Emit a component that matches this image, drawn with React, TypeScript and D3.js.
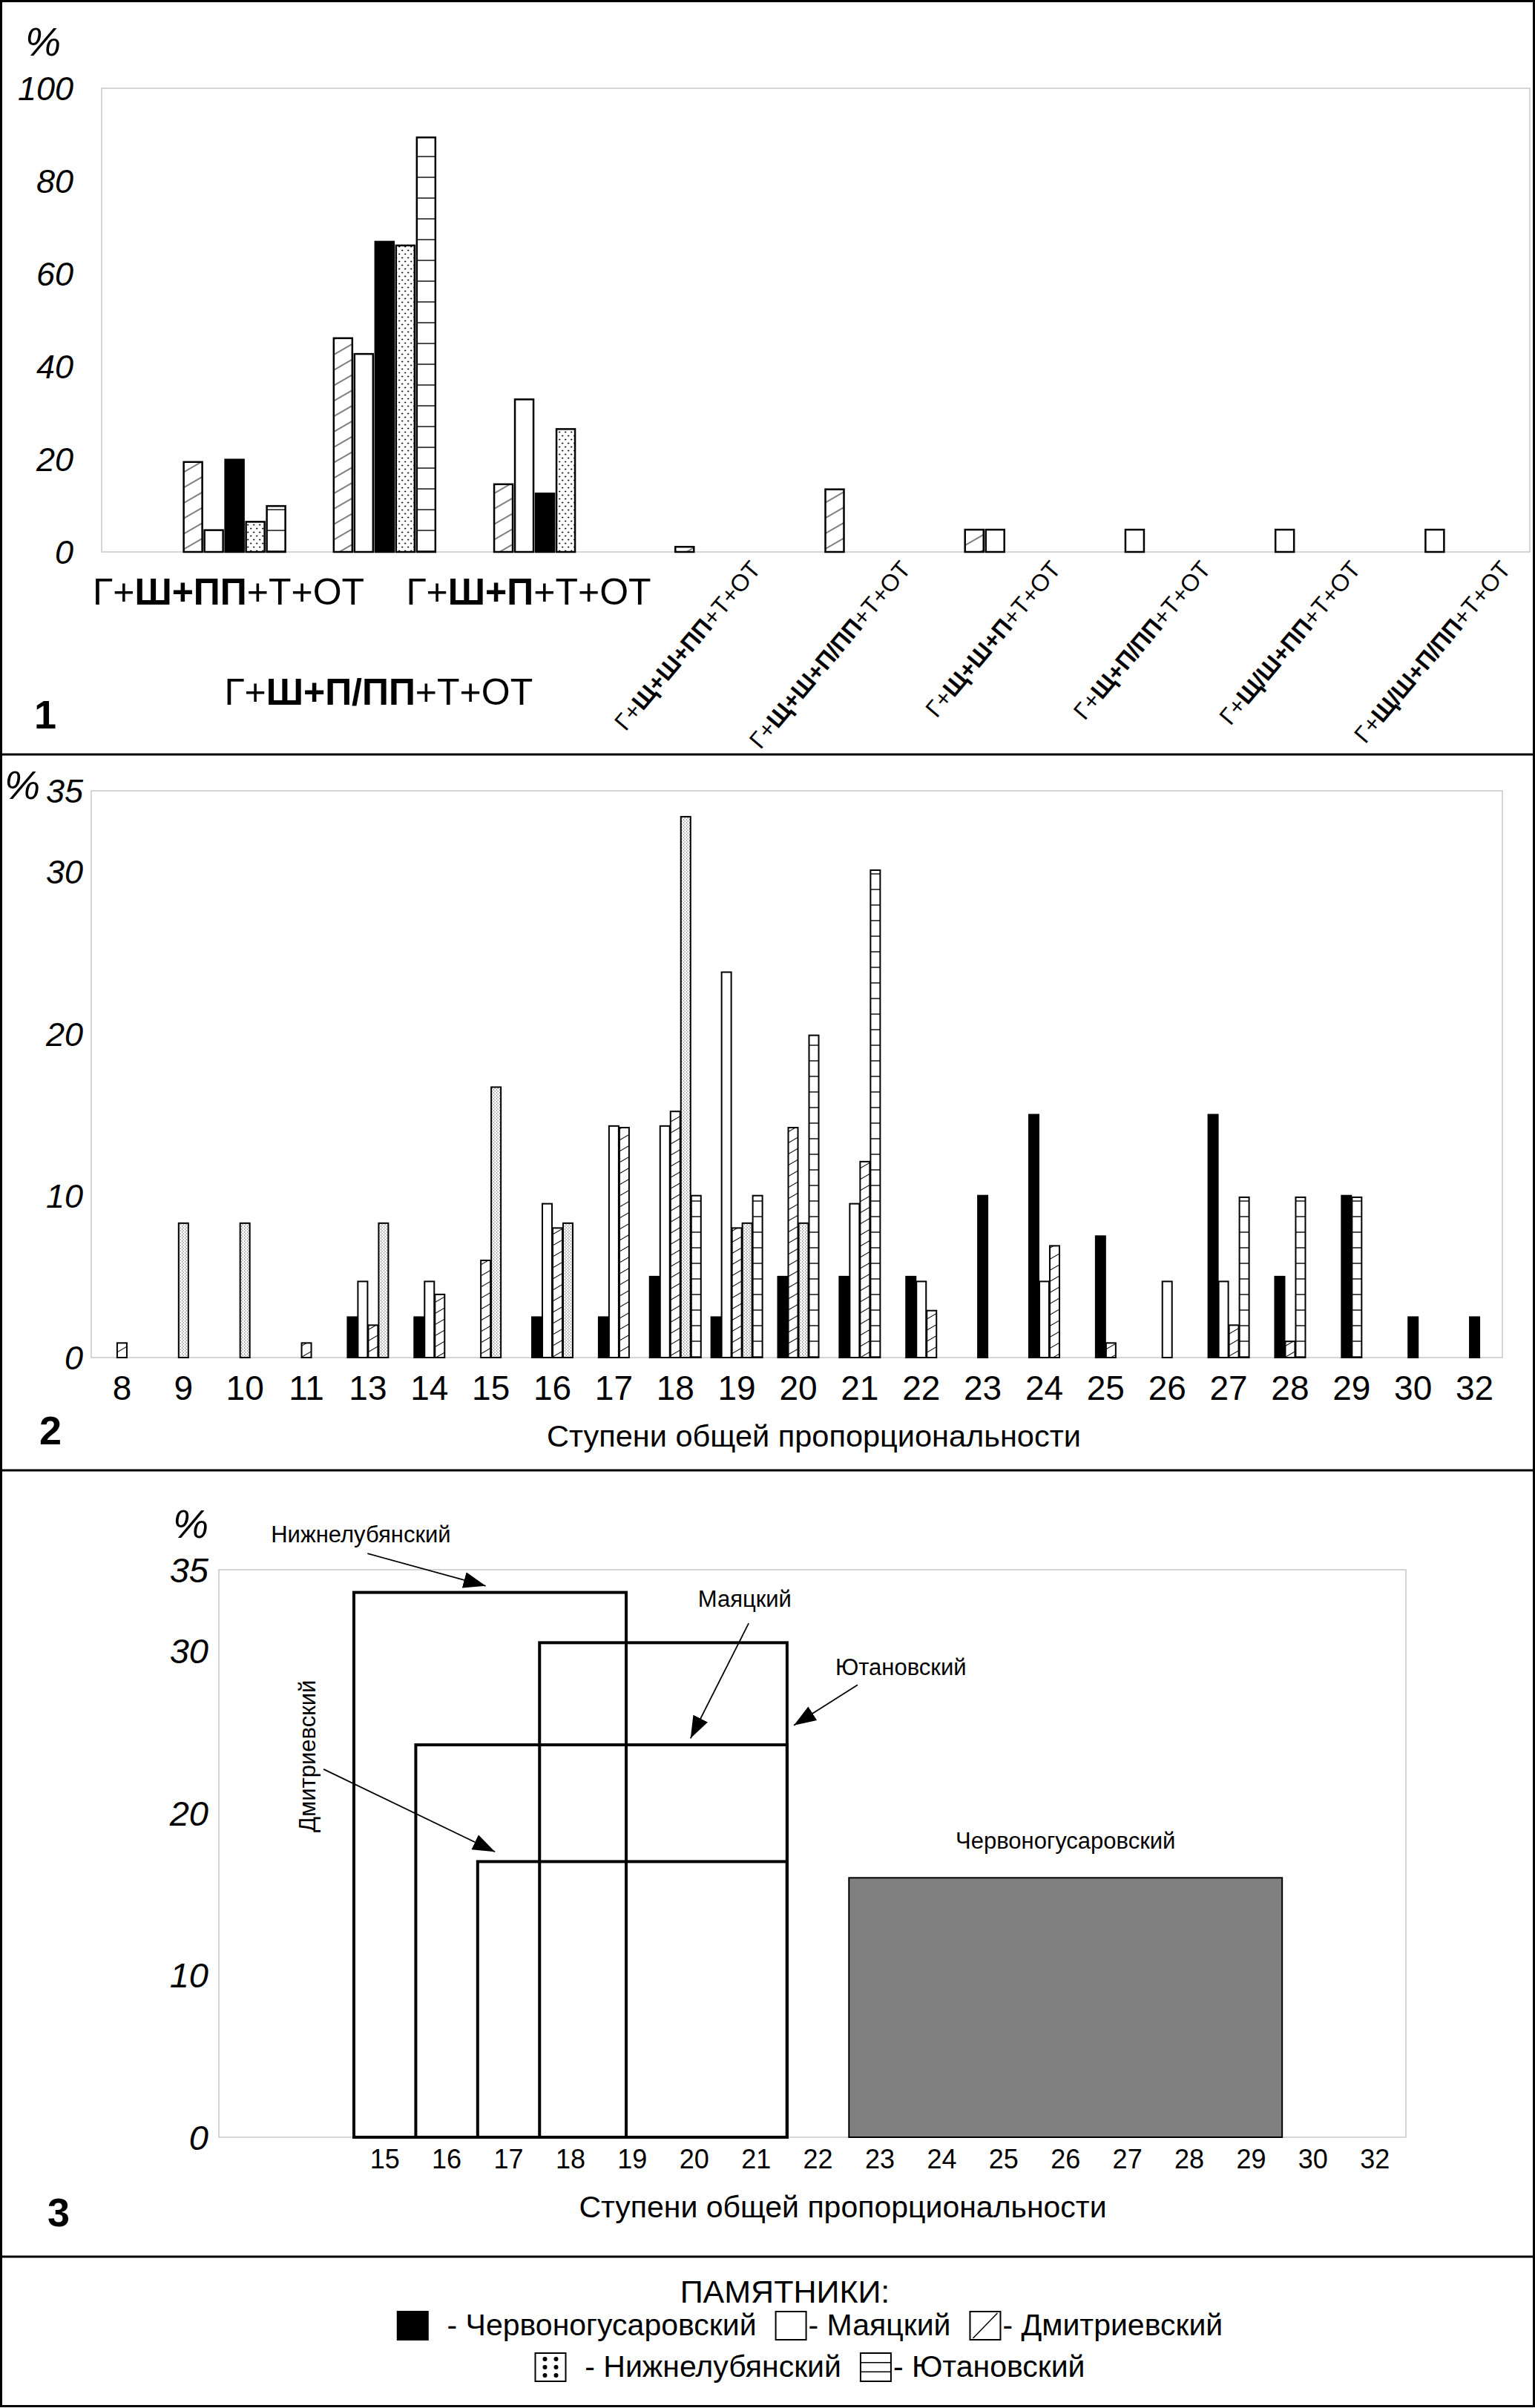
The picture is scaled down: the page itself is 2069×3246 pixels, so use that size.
import React, { useRef, useEffect } from 'react';
import * as d3 from 'd3';

const W = 2069;
const H = 3246;

// monuments, in legend order
const monuments = ['Червоногусаровский', 'Маяцкий', 'Дмитриевский', 'Нижнелубянский', 'Ютановский'];

// ---- panel 1: types of composition ----
const types1 = [
  'Г+Ш+ПП+Т+ОТ', 'Г+Ш+П/ПП+Т+ОТ', 'Г+Ш+П+Т+ОТ', 'Г+Щ+Ш+ПП+Т+ОТ', 'Г+Щ+Ш+П/ПП+Т+ОТ',
  'Г+Щ+Ш+П+Т+ОТ', 'Г+Щ+П/ПП+Т+ОТ', 'Г+Щ/Ш+ПП+Т+ОТ', 'Г+Щ/Ш+П/ПП+Т+ОТ',
];
const chervono1 = [19.9, 66.9, 12.6, null, null, null, null, null, null];
const mayatsky1 = [4.7, 42.7, 32.9, null, null, 4.8, 4.8, 4.8, 4.8];
const dmitriev1 = [19.4, 46.1, 14.6, 1.1, 13.5, 4.8, null, null, null];
const nizhne1 = [6.5, 66.1, 26.5, null, null, null, null, null, null];
const yutan1 = [9.9, 89.4, null, null, null, null, null, null, null];
const ticks1 = [0, 20, 40, 60, 80, 100];

// ---- panel 2: steps of overall proportionality ----
const steps2 = ['8', '9', '10', '11', '13', '14', '15', '16', '17', '18', '19', '20', '21', '22', '23', '24', '25', '26', '27', '28', '29', '30', '32'];
const chervono2 = [null, null, null, null, 2.5, 2.5, null, 2.5, 2.5, 5.0, 2.5, 5.0, 5.0, 5.0, 10.0, 15.0, 7.5, null, 15.0, 5.0, 10.0, 2.5, 2.5];
const mayatsky2 = [null, null, null, null, 4.7, 4.7, null, 9.5, 14.3, 14.3, 23.8, null, 9.5, 4.7, null, 4.7, null, 4.7, 4.7, null, null, null, null];
const dmitriev2 = [0.9, null, null, 0.9, 2.0, 3.9, 6.0, 8.0, 14.2, 15.2, 8.0, 14.2, 12.1, 2.9, null, 6.9, 0.9, null, 2.0, 1.0, null, null, null];
const nizhne2 = [null, 8.3, 8.3, null, 8.3, null, 16.7, 8.3, null, 33.4, 8.3, 8.3, null, null, null, null, null, null, null, null, null, null, null];
const yutan2 = [null, null, null, null, null, null, null, null, null, 10.0, 10.0, 19.9, 30.1, null, null, null, null, null, 9.9, 9.9, 9.9, null, null];
const ticks2 = [0, 10, 20, 30, 35];

// ---- panel 3: ranges of proportionality per monument ----
const steps3 = ['15', '16', '17', '18', '19', '20', '21', '22', '23', '24', '25', '26', '27', '28', '29', '30', '32'];
const monuments3 = ['Нижнелубянский', 'Маяцкий', 'Дмитриевский', 'Ютановский', 'Червоногусаровский'];
const start3 = [15, 16, 17, 18, 23];
const end3 = [19.4, 22, 22, 22, 30];
const height3 = [33.6, 24.2, 17.0, 30.5, 16.0];
const ticks3 = [0, 10, 20, 30, 35];

const axisTitle = 'Ступени общей пропорциональности';

const App: React.FC = () => {
  const ref = useRef<SVGSVGElement | null>(null);

  useEffect(() => {
    const svg = d3.select(ref.current);
    svg.selectAll('*').remove();
    svg.attr('font-family', "'Liberation Sans', Arial, sans-serif");

    svg.append('rect').attr('width', W).attr('height', H).attr('fill', '#fff');

    const defs = svg.append('defs');
    const hatch = (id: string, gap: number) => {
      const p = defs.append('pattern').attr('id', id).attr('patternUnits', 'userSpaceOnUse')
        .attr('width', 10).attr('height', gap).attr('patternTransform', 'rotate(-30)');
      p.append('rect').attr('width', 10).attr('height', gap).attr('fill', '#fff');
      p.append('line').attr('x1', 0).attr('x2', 10).attr('y1', gap / 2).attr('y2', gap / 2)
        .attr('stroke', '#000').attr('stroke-width', 1);
    };
    const hlines = (id: string, gap: number, y0: number) => {
      const p = defs.append('pattern').attr('id', id).attr('patternUnits', 'userSpaceOnUse')
        .attr('width', 10).attr('height', gap).attr('y', y0);
      p.append('rect').attr('width', 10).attr('height', gap).attr('fill', '#fff');
      p.append('line').attr('x1', 0).attr('x2', 10).attr('y1', gap - 1).attr('y2', gap - 1)
        .attr('stroke', '#222').attr('stroke-width', 1.6);
    };
    hatch('hatch1', 18);
    hatch('hatch2', 13);
    hlines('hl1', 28, 744);
    hlines('hl2', 21, 1830);
    const d1 = defs.append('pattern').attr('id', 'dots1').attr('patternUnits', 'userSpaceOnUse')
      .attr('width', 8).attr('height', 10);
    d1.append('rect').attr('width', 8).attr('height', 10).attr('fill', '#fff');
    d1.append('path').attr('d', 'M1,2.5h2.4M2.2,1.3v2.4M5,7.5h2.4M6.2,6.3v2.4')
      .attr('stroke', '#000').attr('stroke-width', 0.8);
    const d2 = defs.append('pattern').attr('id', 'dots2').attr('patternUnits', 'userSpaceOnUse')
      .attr('width', 4).attr('height', 4);
    d2.append('rect').attr('width', 4).attr('height', 4).attr('fill', '#fff');
    d2.append('rect').attr('x', 1).attr('y', 0.5).attr('width', 1.1).attr('height', 1.1).attr('fill', '#444');
    d2.append('rect').attr('x', 2.6).attr('y', 2.5).attr('width', 1.1).attr('height', 1.1).attr('fill', '#444');

    defs.append('marker').attr('id', 'arrow').attr('markerUnits', 'userSpaceOnUse')
      .attr('markerWidth', 30).attr('markerHeight', 22).attr('refX', 30).attr('refY', 11)
      .attr('orient', 'auto')
      .append('path').attr('d', 'M0,0L30,11L0,22Z').attr('fill', '#000');

    // fills by monument index (legend order)
    const fills1 = ['#000', '#fff', 'url(#hatch1)', 'url(#dots1)', 'url(#hl1)'];
    const fills2 = ['#000', '#fff', 'url(#hatch2)', 'url(#dots2)', 'url(#hl2)'];

    const tickLabels = (vals: number[], y: d3.ScaleLinear<number, number>, xr: number, size: number) => {
      svg.append('g').selectAll('text').data(vals).join('text')
        .attr('x', xr).attr('y', (d) => y(d)).attr('dy', '0.36em')
        .attr('text-anchor', 'end').attr('font-style', 'italic').attr('font-size', size)
        .text((d) => String(d));
    };

    // ======== PANEL 1 ========
    const y1 = d3.scaleLinear().domain([0, 100]).range([744, 119]);
    const x1 = d3.scaleBand<string>().domain(types1).range([215, 2035]);
    svg.append('rect').attr('x', 137).attr('y', 119).attr('width', 1925).attr('height', 625)
      .attr('fill', 'none').attr('stroke', '#c8c8c8').attr('stroke-width', 1.5);
    tickLabels(ticks1, y1, 99, 45);
    svg.append('text').attr('x', 34).attr('y', 75).attr('font-size', 54).attr('font-style', 'italic').text('%');

    const series1 = [dmitriev1, mayatsky1, chervono1, nizhne1, yutan1];
    const idx1 = [2, 1, 0, 3, 4];
    const g1 = svg.append('g');
    types1.forEach((t, i) => {
      const present = series1.map((s, k) => ({ v: s[i], k })).filter((d) => d.v != null);
      const bw = 25, step = 28;
      const total = present.length * step - (step - bw);
      const cx = (x1(t) ?? 0) + x1.bandwidth() / 2;
      present.forEach((d, j) => {
        g1.append('rect')
          .attr('x', cx - total / 2 + j * step).attr('width', bw)
          .attr('y', y1(d.v as number)).attr('height', y1(0) - y1(d.v as number))
          .attr('fill', fills1[idx1[d.k]]).attr('stroke', '#000').attr('stroke-width', 2.5);
      });
      const pre = t.slice(0, 2), mid = t.slice(2, t.length - 5), post = t.slice(t.length - 5);
      let label;
      if (i < 3) {
        label = g1.append('text').attr('x', cx - 8).attr('y', i === 1 ? 950 : 815)
          .attr('text-anchor', 'middle').attr('font-size', 50);
      } else {
        label = g1.append('text').attr('text-anchor', 'end').attr('font-size', 32)
          .attr('transform', `translate(${cx + 104},${768}) rotate(-50)`);
      }
      label.append('tspan').text(pre);
      label.append('tspan').attr('font-weight', 'bold').text(mid);
      label.append('tspan').text(post);
    });
    svg.append('text').attr('x', 46).attr('y', 982).attr('font-size', 54).attr('font-weight', 'bold').text('1');

    // ======== PANEL 2 ========
    const y2 = d3.scaleLinear().domain([0, 35]).range([1830, 1066]);
    const x2 = d3.scaleBand<string>().domain(steps2).range([123, 2029]);
    svg.append('rect').attr('x', 123).attr('y', 1066).attr('width', 1902).attr('height', 764)
      .attr('fill', 'none').attr('stroke', '#c8c8c8').attr('stroke-width', 1.5);
    tickLabels(ticks2, y2, 112, 45);
    svg.append('text').attr('x', 6).attr('y', 1077).attr('font-size', 54).attr('font-style', 'italic').text('%');

    const series2 = [chervono2, mayatsky2, dmitriev2, nizhne2, yutan2];
    const g2 = svg.append('g');
    steps2.forEach((s, i) => {
      const present = series2.map((ser, k) => ({ v: ser[i], k })).filter((d) => d.v != null);
      const bw = 13, step = 14;
      const total = present.length * step - (step - bw);
      const cx = (x2(s) ?? 0) + x2.bandwidth() / 2;
      present.forEach((d, j) => {
        g2.append('rect')
          .attr('x', cx - total / 2 + j * step).attr('width', bw)
          .attr('y', y2(d.v as number)).attr('height', y2(0) - y2(d.v as number))
          .attr('fill', fills2[d.k]).attr('stroke', '#000').attr('stroke-width', 2);
      });
    });
    g2.selectAll('text.xl').data(steps2).join('text')
      .attr('x', (d) => (x2(d) ?? 0) + x2.bandwidth() / 2).attr('y', 1887)
      .attr('text-anchor', 'middle').attr('font-size', 46).text((d) => d);
    svg.append('text').attr('x', 1097).attr('y', 1950).attr('text-anchor', 'middle')
      .attr('font-size', 41.5).text(axisTitle);
    svg.append('text').attr('x', 53).attr('y', 1947).attr('font-size', 54).attr('font-weight', 'bold').text('2');

    // ======== PANEL 3 ========
    const y3 = d3.scaleLinear().domain([0, 35]).range([2881, 2116]);
    const x3 = d3.scaleBand<string>().domain(steps3).range([477, 1895]);
    const ix = d3.scaleLinear().domain([0, steps3.length]).range(x3.range());
    const edge = (v: number) => ix(steps3.indexOf(String(Math.floor(v))) + (v - Math.floor(v)));
    svg.append('rect').attr('x', 295).attr('y', 2116).attr('width', 1600).attr('height', 765)
      .attr('fill', 'none').attr('stroke', '#c8c8c8').attr('stroke-width', 1.5);
    tickLabels(ticks3, y3, 281, 47);
    svg.append('text').attr('x', 233).attr('y', 2073).attr('font-size', 54).attr('font-style', 'italic').text('%');

    const g3 = svg.append('g');
    monuments3.forEach((m, i) => {
      const gray = m === monuments[0];
      g3.append('rect')
        .attr('x', edge(start3[i])).attr('width', edge(end3[i]) - edge(start3[i]))
        .attr('y', y3(height3[i])).attr('height', y3(0) - y3(height3[i]))
        .attr('fill', gray ? '#808080' : 'none').attr('stroke', '#000')
        .attr('stroke-width', gray ? 2 : 4);
    });
    g3.selectAll('text.xl').data(steps3).join('text')
      .attr('x', (d) => (x3(d) ?? 0) + x3.bandwidth() / 2).attr('y', 2923)
      .attr('text-anchor', 'middle').attr('font-size', 36).text((d) => d);

    // annotations (index units along the step axis, % on y)
    const notes3 = [
      { text: 'Нижнелубянский', tx: -1.34, ty: 36.7, from: [0.22, 36.0], to: [2.13, 34.0] },
      { text: 'Маяцкий', tx: 5.56, ty: 32.7, from: [6.38, 31.7], to: [5.44, 24.6] },
      { text: 'Ютановский', tx: 7.78, ty: 28.5, from: [8.14, 27.9], to: [7.11, 25.4] },
      { text: 'Дмитриевский', tx: -0.62, ty: 23.5, from: [-0.49, 22.7], to: [2.28, 17.6], rotate: true },
      { text: 'Червоногусаровский', tx: 11.5, ty: 17.8, middle: true },
    ];
    notes3.forEach((n) => {
      const t = g3.append('text').attr('font-size', 31).text(n.text);
      if (n.rotate) {
        t.attr('text-anchor', 'middle').attr('transform', `translate(${ix(n.tx)},${y3(n.ty)}) rotate(-90)`);
      } else {
        t.attr('x', ix(n.tx)).attr('y', y3(n.ty)).attr('text-anchor', n.middle ? 'middle' : 'start');
      }
      if (n.from && n.to) {
        g3.append('line')
          .attr('x1', ix(n.from[0])).attr('y1', y3(n.from[1]))
          .attr('x2', ix(n.to[0])).attr('y2', y3(n.to[1]))
          .attr('stroke', '#000').attr('stroke-width', 1.8).attr('marker-end', 'url(#arrow)');
      }
    });
    svg.append('text').attr('x', 1136).attr('y', 2989).attr('text-anchor', 'middle')
      .attr('font-size', 41).text(axisTitle);
    svg.append('text').attr('x', 64).attr('y', 3001).attr('font-size', 54).attr('font-weight', 'bold').text('3');

    // ======== LEGEND ========
    const lg = svg.append('g');
    lg.append('text').attr('x', 1058).attr('y', 3104).attr('text-anchor', 'middle')
      .attr('font-size', 43).text('ПАМЯТНИКИ:');
    const rows = [[0, 1, 2], [3, 4]];
    const rowY = [3116, 3172];
    const sw = 41, sh = 38;
    const textOf = ['  - ', '- ', '- ', '  - ', '- '];
    rows.forEach((row, r) => {
      const rg = lg.append('g');
      let x = 0;
      row.forEach((k, j) => {
        const ig = rg.append('g').attr('transform', `translate(${x},${rowY[r]})`);
        ig.append('rect').attr('width', sw).attr('height', sh)
          .attr('fill', k === 0 ? '#000' : '#fff').attr('stroke', '#000').attr('stroke-width', 2);
        if (k === 2) {
          ig.append('line').attr('x1', 4).attr('y1', sh - 2).attr('x2', sw - 4).attr('y2', 2)
            .attr('stroke', '#000').attr('stroke-width', 1.5);
        }
        if (k === 3) {
          [0, 1].forEach((c) => [0, 1, 2].forEach((rr) => ig.append('circle')
            .attr('cx', 13 + c * 15).attr('cy', 8 + rr * 11).attr('r', 3).attr('fill', '#000')));
        }
        if (k === 4) {
          [sh / 3, (2 * sh) / 3].forEach((yy) => ig.append('line').attr('x1', 0).attr('x2', sw)
            .attr('y1', yy).attr('y2', yy).attr('stroke', '#000').attr('stroke-width', 1.5));
        }
        const t = ig.append('text').attr('x', sw + 3).attr('y', 32).attr('font-size', 41)
          .attr('xml:space', 'preserve').style('white-space', 'pre').text(textOf[k] + monuments[k]);
        const tw = (t.node() as SVGTextElement).getComputedTextLength();
        x += sw + 3 + tw + (j < row.length - 1 ? 26 : 0);
      });
      rg.attr('transform', `translate(${1092 - x / 2},0)`);
    });

    // ======== FRAME ========
    svg.append('rect').attr('x', 1.5).attr('y', 1.5).attr('width', W - 3).attr('height', H - 4)
      .attr('fill', 'none').attr('stroke', '#000').attr('stroke-width', 3);
    [1017, 1982, 3042].forEach((yy) => svg.append('line').attr('x1', 0).attr('x2', W)
      .attr('y1', yy).attr('y2', yy).attr('stroke', '#000').attr('stroke-width', 3));
  }, []);

  return <svg ref={ref} width={W} height={H} style={{ position: 'absolute', left: 0, top: 0 }} />;
};

export default App;
